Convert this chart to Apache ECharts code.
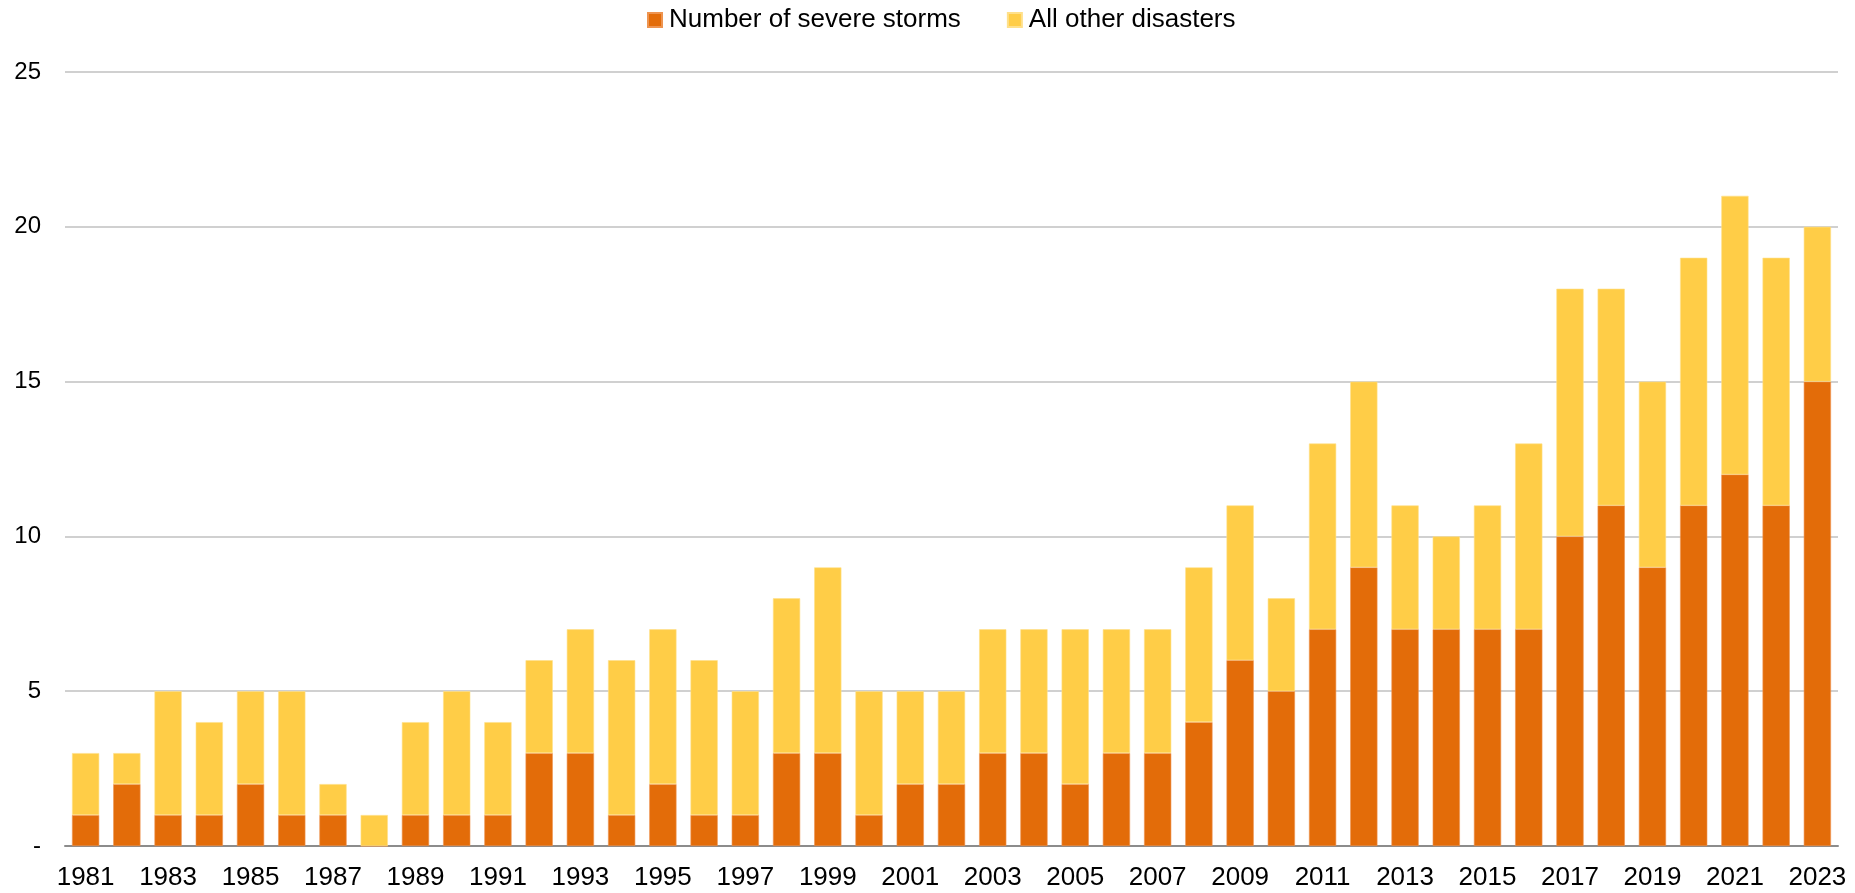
<!DOCTYPE html>
<html>
<head>
<meta charset="utf-8">
<script src="https://cdn.jsdelivr.net/npm/echarts@6/dist/echarts.min.js"></script>
<style>
  html, body { margin: 0; padding: 0; background: #fff; }
  #chart { width: 1855px; height: 893px; }
</style>
</head>
<body>
<div id="chart"></div>
<script>
// Billion-dollar disaster counts per year
const years = [
  '1981','1982','1983','1984','1985','1986','1987','1988','1989','1990',
  '1991','1992','1993','1994','1995','1996','1997','1998','1999','2000',
  '2001','2002','2003','2004','2005','2006','2007','2008','2009','2010',
  '2011','2012','2013','2014','2015','2016','2017','2018','2019','2020',
  '2021','2022','2023'
];
const severeStorms = [
  1, 2, 1, 1, 2, 1, 1, 0, 1, 1,
  1, 3, 3, 1, 2, 1, 1, 3, 3, 1,
  2, 2, 3, 3, 2, 3, 3, 4, 6, 5,
  7, 9, 7, 7, 7, 7, 10, 11, 9, 11,
  12, 11, 15
];
const otherDisasters = [
  2, 1, 4, 3, 3, 4, 1, 1, 3, 4,
  3, 3, 4, 5, 5, 5, 4, 5, 6, 4,
  3, 3, 4, 4, 5, 4, 4, 5, 5, 3,
  6, 6, 4, 3, 4, 6, 8, 7, 6, 8,
  9, 8, 5
];
const yTicks = [0, 5, 10, 15, 20, 25];

const chart = echarts.init(document.getElementById('chart'));
const font = 'Liberation Sans, Arial, sans-serif';

chart.setOption({
  animation: false,
  legend: {
    top: 2,
    left: 642,
    itemWidth: 14,
    itemHeight: 14,
    itemGap: 46,
    icon: 'rect',
    textStyle: { fontFamily: font, fontSize: 26, color: '#000', padding: [0, 0, 0, 2] },
    data: ['Number of severe storms', 'All other disasters']
  },
  grid: { left: 65, right: 17, top: 72, bottom: 47 },
  xAxis: {
    type: 'category',
    data: years,
    axisLine: { lineStyle: { color: '#8c8c8c', width: 2 } },
    axisTick: { show: false },
    axisLabel: {
      interval: 1,
      fontFamily: font,
      fontSize: 26,
      color: '#000',
      margin: 19
    }
  },
  yAxis: {
    type: 'value',
    min: yTicks[0],
    max: yTicks[yTicks.length - 1],
    interval: 5,
    axisLine: { show: false },
    axisTick: { show: false },
    splitLine: { lineStyle: { color: '#c0c0c0', width: 1.5 } },
    axisLabel: {
      fontFamily: font,
      fontSize: 24,
      color: '#000',
      margin: 24,
      formatter: v => (v === 0 ? '-' : String(v))
    }
  },
  series: [
    {
      name: 'Number of severe storms',
      type: 'bar',
      stack: 'total',
      barCategoryGap: '34%',
      data: severeStorms,
      itemStyle: { color: '#E36C09', borderColor: '#EE9450', borderWidth: 0.6 }
    },
    {
      name: 'All other disasters',
      type: 'bar',
      stack: 'total',
      data: otherDisasters,
      itemStyle: { color: '#FFCD47', borderColor: '#FFE08A', borderWidth: 0.6 }
    }
  ]
});
</script>
</body>
</html>
